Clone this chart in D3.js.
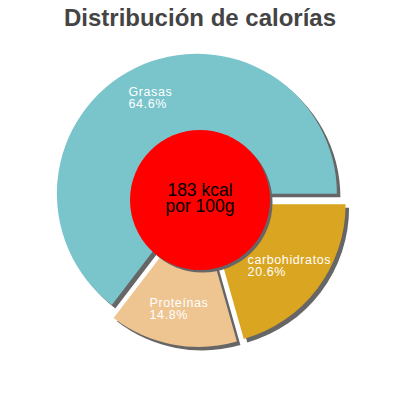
<!DOCTYPE html>
<html><head><meta charset="utf-8">
<script src="https://cdn.jsdelivr.net/npm/d3@7"></script>
<style>html,body{margin:0;padding:0;background:#fff;}svg{display:block;}</style>
</head><body>
<svg id="c" width="400" height="400"></svg>
<script>
const categories = ["carbohidratos", "Proteínas", "Grasas"];
const percents = [20.6, 14.8, 64.6];
const colors = ["#DAA520", "#EEC591", "#7AC4CC"];
const title = "Distribución de calorías";
const centerLines = ["183 kcal", "por 100g"];

const W = 400, H = 400, cx = 200, cy = 200;
const R = 140, innerR = 70, explode = 7, shadow = 3.5;

const svg = d3.select("#c");
svg.append("text").attr("x", W/2).attr("y", 26).attr("text-anchor", "middle")
  .attr("font-family", "Liberation Sans, Arial, sans-serif").attr("font-weight", "bold")
  .attr("font-size", 24).attr("fill", "#444").text(title);

const data = categories.map((c, i) => ({name: c, value: percents[i], color: colors[i]}));
const pie = d3.pie().value(d => d.value).sort(null)
  .startAngle(Math.PI/2).endAngle(Math.PI/2 + 2*Math.PI);
const arcs = pie(data);
const arc = d3.arc().innerRadius(0).outerRadius(R);
const labelArc = d3.arc().innerRadius(innerR).outerRadius(R);

function off(d) {
  const a = (d.startAngle + d.endAngle)/2;
  return [cx + explode*Math.sin(a), cy - explode*Math.cos(a)];
}

const g = svg.append("g");
g.selectAll("path.sh").data(arcs).join("path").attr("class", "sh")
  .attr("d", arc).attr("fill", "#666")
  .attr("transform", d => { const o = off(d); return `translate(${o[0]+shadow},${o[1]+shadow})`; });
g.selectAll("path.sl").data(arcs).join("path").attr("class", "sl")
  .attr("d", arc).attr("fill", d => d.data.color)
  .attr("transform", d => { const o = off(d); return `translate(${o[0]},${o[1]})`; });

g.append("circle").attr("cx", cx + 2.5).attr("cy", cy + 2.5).attr("r", innerR).attr("fill", "#666");
g.append("circle").attr("cx", cx).attr("cy", cy).attr("r", innerR).attr("fill", "#FF0000");
const ct = g.append("text").attr("text-anchor", "middle")
  .attr("font-family", "Liberation Sans, Arial, sans-serif").attr("font-size", 17.5).attr("fill", "#000");
centerLines.forEach((l, i) => ct.append("tspan").attr("x", cx).attr("y", 196 + i*16).text(l));

arcs.forEach(d => {
  const o = off(d);
  const c = labelArc.centroid(d);
  const lx = o[0] + c[0], ly = o[1] + c[1];
  const t = g.append("text").attr("font-family", "Liberation Sans, Arial, sans-serif")
    .attr("font-size", 12.5).attr("letter-spacing", 0.6).attr("fill", "#fff");
  t.append("tspan").attr("x", 0).attr("y", ly - 3.5).text(d.data.name);
  t.append("tspan").attr("x", 0).attr("y", ly + 8.5).text(d.data.value.toFixed(1) + "%");
  const w = t.node().getBBox().width;
  t.selectAll("tspan").attr("x", lx - w/2);
});
</script>
</body></html>
